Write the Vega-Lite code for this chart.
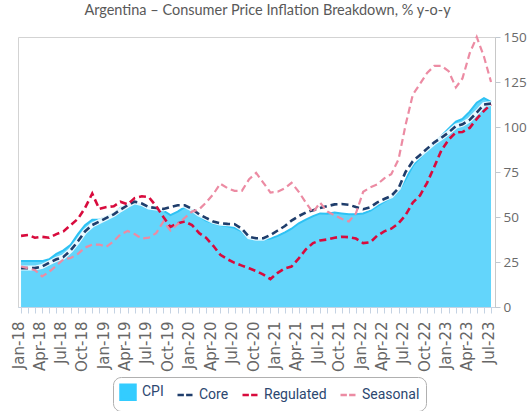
{
  "$schema": "https://vega.github.io/schema/vega-lite/v6.json",
  "width": 477,
  "height": 270,
  "autosize": {"type": "none"},
  "padding": {"left": 18, "top": 37, "right": 36, "bottom": 104},
  "background": "white",
  "title": {"text": "Argentina – Consumer Price Inflation Breakdown, % y-o-y", "font": "Lato", "fontSize": 14.5, "fontWeight": "normal", "color": "#595959", "anchor": "middle", "dx": 11, "offset": 12},
  "config": {"view": {"stroke": "#d3d3d3", "strokeWidth": 1}},
  "data": {
    "format": {"parse": {"date": "date:'%Y-%m'"}},
    "values": [
      {"date": "2018-01", "CPI": 25.5, "Core": 21.6, "Regulated": 39.5, "Seasonal": 22.5},
      {"date": "2018-02", "CPI": 25.5, "Core": 21.6, "Regulated": 40, "Seasonal": 21.5},
      {"date": "2018-03", "CPI": 25.5, "Core": 21.6, "Regulated": 38.5, "Seasonal": 20.5},
      {"date": "2018-04", "CPI": 25.5, "Core": 22.5, "Regulated": 39, "Seasonal": 17},
      {"date": "2018-05", "CPI": 26.5, "Core": 24.5, "Regulated": 38.5, "Seasonal": 19.5},
      {"date": "2018-06", "CPI": 29.5, "Core": 26.5, "Regulated": 40.5, "Seasonal": 23},
      {"date": "2018-07", "CPI": 31.5, "Core": 27.8, "Regulated": 42, "Seasonal": 26.5},
      {"date": "2018-08", "CPI": 34.5, "Core": 31.5, "Regulated": 45.5, "Seasonal": 27.2},
      {"date": "2018-09", "CPI": 40.5, "Core": 36.5, "Regulated": 49, "Seasonal": 29.5},
      {"date": "2018-10", "CPI": 45.5, "Core": 42, "Regulated": 55, "Seasonal": 33},
      {"date": "2018-11", "CPI": 48.5, "Core": 45.5, "Regulated": 63, "Seasonal": 34.7},
      {"date": "2018-12", "CPI": 48.5, "Core": 47.5, "Regulated": 54.5, "Seasonal": 34.7},
      {"date": "2019-01", "CPI": 50, "Core": 49.5, "Regulated": 55.5, "Seasonal": 33.5},
      {"date": "2019-02", "CPI": 52, "Core": 51.5, "Regulated": 56, "Seasonal": 36.5},
      {"date": "2019-03", "CPI": 55, "Core": 54, "Regulated": 58.5, "Seasonal": 40.3},
      {"date": "2019-04", "CPI": 56.5, "Core": 56.5, "Regulated": 57, "Seasonal": 42.2},
      {"date": "2019-05", "CPI": 58, "Core": 58.5, "Regulated": 60.5, "Seasonal": 40.5},
      {"date": "2019-06", "CPI": 57, "Core": 57.5, "Regulated": 61.5, "Seasonal": 38},
      {"date": "2019-07", "CPI": 55.5, "Core": 55.5, "Regulated": 61, "Seasonal": 38.5},
      {"date": "2019-08", "CPI": 54.5, "Core": 55, "Regulated": 56, "Seasonal": 41},
      {"date": "2019-09", "CPI": 53.5, "Core": 54.5, "Regulated": 50, "Seasonal": 47.5},
      {"date": "2019-10", "CPI": 51, "Core": 55.5, "Regulated": 44.5, "Seasonal": 42.5},
      {"date": "2019-11", "CPI": 53, "Core": 56.5, "Regulated": 46.5, "Seasonal": 46},
      {"date": "2019-12", "CPI": 55.5, "Core": 56.5, "Regulated": 47.5, "Seasonal": 49.5},
      {"date": "2020-01", "CPI": 54, "Core": 54.5, "Regulated": 45.5, "Seasonal": 53},
      {"date": "2020-02", "CPI": 50.5, "Core": 51.5, "Regulated": 41, "Seasonal": 54.3},
      {"date": "2020-03", "CPI": 48, "Core": 49.5, "Regulated": 38.5, "Seasonal": 58},
      {"date": "2020-04", "CPI": 46.5, "Core": 47.5, "Regulated": 34, "Seasonal": 62.7},
      {"date": "2020-05", "CPI": 45.5, "Core": 46.5, "Regulated": 29, "Seasonal": 68.5},
      {"date": "2020-06", "CPI": 44.8, "Core": 46.2, "Regulated": 26.5, "Seasonal": 66},
      {"date": "2020-07", "CPI": 44, "Core": 46, "Regulated": 24.5, "Seasonal": 64.5},
      {"date": "2020-08", "CPI": 42, "Core": 43.5, "Regulated": 23, "Seasonal": 64.5},
      {"date": "2020-09", "CPI": 38.5, "Core": 39, "Regulated": 21.5, "Seasonal": 71},
      {"date": "2020-10", "CPI": 37.5, "Core": 38.2, "Regulated": 20, "Seasonal": 74.5},
      {"date": "2020-11", "CPI": 37.5, "Core": 38.2, "Regulated": 18, "Seasonal": 69},
      {"date": "2020-12", "CPI": 38, "Core": 40, "Regulated": 15.5, "Seasonal": 63.6},
      {"date": "2021-01", "CPI": 39.5, "Core": 42.5, "Regulated": 19, "Seasonal": 64},
      {"date": "2021-02", "CPI": 41.5, "Core": 45, "Regulated": 21.5, "Seasonal": 66},
      {"date": "2021-03", "CPI": 43.5, "Core": 48, "Regulated": 22.5, "Seasonal": 69},
      {"date": "2021-04", "CPI": 46.5, "Core": 50.5, "Regulated": 27, "Seasonal": 64},
      {"date": "2021-05", "CPI": 48.5, "Core": 52.5, "Regulated": 32, "Seasonal": 58},
      {"date": "2021-06", "CPI": 50.5, "Core": 53.8, "Regulated": 35.5, "Seasonal": 52.5},
      {"date": "2021-07", "CPI": 52, "Core": 55, "Regulated": 37, "Seasonal": 58},
      {"date": "2021-08", "CPI": 51.8, "Core": 56, "Regulated": 37.5, "Seasonal": 53},
      {"date": "2021-09", "CPI": 52.5, "Core": 57, "Regulated": 38.5, "Seasonal": 51},
      {"date": "2021-10", "CPI": 52, "Core": 57.2, "Regulated": 39, "Seasonal": 49},
      {"date": "2021-11", "CPI": 51.5, "Core": 56.8, "Regulated": 38.8, "Seasonal": 47.5},
      {"date": "2021-12", "CPI": 51.5, "Core": 55.5, "Regulated": 38, "Seasonal": 52},
      {"date": "2022-01", "CPI": 52, "Core": 54.3, "Regulated": 35.5, "Seasonal": 64},
      {"date": "2022-02", "CPI": 53.5, "Core": 55.5, "Regulated": 36, "Seasonal": 66.5},
      {"date": "2022-03", "CPI": 56, "Core": 58, "Regulated": 39.5, "Seasonal": 68},
      {"date": "2022-04", "CPI": 58.5, "Core": 60, "Regulated": 42, "Seasonal": 71.5},
      {"date": "2022-05", "CPI": 60.8, "Core": 61.7, "Regulated": 43.5, "Seasonal": 73.8},
      {"date": "2022-06", "CPI": 64.5, "Core": 66, "Regulated": 46.5, "Seasonal": 82},
      {"date": "2022-07", "CPI": 71, "Core": 75, "Regulated": 51, "Seasonal": 101},
      {"date": "2022-08", "CPI": 78.5, "Core": 81, "Regulated": 58, "Seasonal": 118},
      {"date": "2022-09", "CPI": 83, "Core": 84.5, "Regulated": 62, "Seasonal": 124},
      {"date": "2022-10", "CPI": 87, "Core": 88, "Regulated": 69, "Seasonal": 130},
      {"date": "2022-11", "CPI": 91.5, "Core": 91.5, "Regulated": 78, "Seasonal": 134},
      {"date": "2022-12", "CPI": 95, "Core": 94, "Regulated": 87, "Seasonal": 134},
      {"date": "2023-01", "CPI": 99, "Core": 97, "Regulated": 93, "Seasonal": 131},
      {"date": "2023-02", "CPI": 103, "Core": 100.5, "Regulated": 97, "Seasonal": 122},
      {"date": "2023-03", "CPI": 104.5, "Core": 101.5, "Regulated": 97.2, "Seasonal": 127},
      {"date": "2023-04", "CPI": 108.5, "Core": 104, "Regulated": 99.5, "Seasonal": 141},
      {"date": "2023-05", "CPI": 113.5, "Core": 108, "Regulated": 104.5, "Seasonal": 150},
      {"date": "2023-06", "CPI": 116, "Core": 112.5, "Regulated": 109, "Seasonal": 139},
      {"date": "2023-07", "CPI": 114, "Core": 113, "Regulated": 112.5, "Seasonal": 125}
    ]
  },
  "transform": [{"fold": ["CPI", "Core", "Regulated", "Seasonal"], "as": ["series", "value"]}],
  "encoding": {
    "x": {
      "field": "date",
      "type": "temporal",
      "scale": {"domain": [{"year": 2017, "month": 12, "date": 19}, {"year": 2023, "month": 7, "date": 18}], "nice": false},
      "axis": {
        "title": null,
        "grid": false,
        "tickCount": {"interval": "month", "step": 1},
        "labelExpr": "month(datum.value) % 3 == 0 ? timeFormat(datum.value, '%b-%y') : ''",
        "labelAngle": -90,
        "labelFont": "DejaVu Sans",
        "labelFontSize": 15,
        "labelColor": "#666666",
        "labelPadding": 8,
        "labelOffset": -3,
        "labelOverlap": false,
        "labelBound": false,
        "labelFlush": false,
        "tickSize": 6,
        "tickColor": "#c5d3e3",
        "domainColor": "#c5d3e3"
      }
    },
    "y": {
      "field": "value",
      "type": "quantitative",
      "scale": {"domain": [0, 150], "nice": false},
      "axis": {
        "title": null,
        "orient": "right",
        "grid": false,
        "values": [0, 25, 50, 75, 100, 125, 150],
        "tickSize": 5,
        "tickColor": "#c0c8d0",
        "domainColor": "#c8c8c8",
        "labelColor": "#6a6a6a",
        "labelFont": "Open Sans",
        "labelFontSize": 13.5,
        "labelPadding": 3
      }
    }
  },
  "layer": [
    {
      "transform": [{"filter": "datum.series == 'CPI'"}],
      "mark": {"type": "area", "color": "#63d5fb", "opacity": 1, "line": {"color": "#2ec2f4", "strokeWidth": 2}}
    },
    {
      "transform": [{"filter": "datum.series == 'Core'"}],
      "mark": {"type": "line", "color": "white", "strokeWidth": 5, "opacity": 0.85}
    },
    {
      "transform": [{"filter": "datum.series == 'Core'"}],
      "mark": {"type": "line", "color": "#1f3d6b", "strokeWidth": 2.6, "strokeDash": [7, 4]}
    },
    {
      "transform": [{"filter": "datum.series == 'Regulated'"}],
      "mark": {"type": "line", "color": "#d80b3d", "strokeWidth": 2.6, "strokeDash": [7, 4]}
    },
    {
      "transform": [{"filter": "datum.series == 'Seasonal'"}],
      "mark": {"type": "line", "color": "#ec8ba3", "strokeWidth": 2.2, "strokeDash": [7, 4]}
    },
    {
      "mark": {"type": "point", "filled": true, "opacity": 0},
      "encoding": {
        "color": {
          "field": "series",
          "type": "nominal",
          "scale": {"domain": ["CPI", "Core", "Regulated", "Seasonal"], "range": ["#33ccff", "#1f3d6b", "#d80b3d", "#ec8ba3"]},
          "legend": {
            "title": null,
            "orient": "none",
            "legendX": 95,
            "legendY": 340,
            "direction": "horizontal",
            "strokeColor": "#b0b0b0",
            "fillColor": "white",
            "cornerRadius": 8,
            "padding": 6,
            "labelFont": "Roboto",
            "labelFontSize": 14,
            "labelColor": "#2c4770",
            "labelOffset": 5,
            "symbolSize": 225,
            "symbolStrokeWidth": 2.5,
            "columnPadding": 8,
            "encode": {"symbols": {"update": {"stroke": {"scale": "color", "field": "value"}, "fill": {"scale": "color", "field": "value"}, "opacity": {"value": 1}}}}
          }
        },
        "shape": {
          "field": "series",
          "type": "nominal",
          "scale": {"domain": ["CPI", "Core", "Regulated", "Seasonal"], "range": ["square", "M-1,0H-0.15M0.15,0H1", "M-1,0H-0.15M0.15,0H1", "M-1,0H-0.15M0.15,0H1"]},
          "legend": {
            "title": null,
            "orient": "none",
            "legendX": 95,
            "legendY": 340,
            "direction": "horizontal",
            "strokeColor": "#b0b0b0",
            "fillColor": "white",
            "cornerRadius": 8,
            "padding": 6,
            "labelFont": "Roboto",
            "labelFontSize": 14,
            "labelColor": "#2c4770",
            "labelOffset": 5,
            "symbolSize": 225,
            "symbolStrokeWidth": 2.5,
            "columnPadding": 8,
            "encode": {"symbols": {"update": {"stroke": {"scale": "color", "field": "value"}, "fill": {"scale": "color", "field": "value"}, "opacity": {"value": 1}}}}
          }
        }
      }
    }
  ]
}
